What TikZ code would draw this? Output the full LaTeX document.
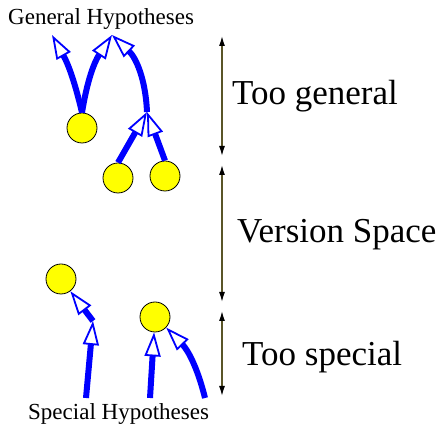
\documentclass[tikz,border=0pt]{standalone}
\usepackage{fontspec}
\setmainfont{Liberation Serif}
\usetikzlibrary{arrows.meta}
\definecolor{hblue}{RGB}{0,0,255}
\definecolor{hyellow}{RGB}{255,255,0}
\definecolor{rangeline}{RGB}{90,85,40}
\begin{document}
\begin{tikzpicture}[x=1pt,y=-1pt,
  hyp/.style={circle,draw=black,line width=0.8pt,fill=hyellow,minimum size=30pt,inner sep=0pt},
  gen/.style={line width=6pt,draw=hblue,-{Triangle[open,fill=white,length=24pt,width=16pt,line width=1.8pt]}},
  spanline/.style={line width=1.3pt,draw=rangeline,{Latex[black,length=10pt,width=6pt]}-{Latex[black,length=10pt,width=6pt]}},
  big/.style={font=\fontsize{35}{40}\selectfont,inner sep=0pt,anchor=base west},
  small/.style={font=\fontsize{23}{27}\selectfont,inner sep=0pt,anchor=base west}]
\useasboundingbox (0,0) rectangle (445,427);
% hypotheses
\node[hyp] (a) at (82,128) {};
\node[hyp] (b) at (118,178) {};
\node[hyp] (c) at (165,176) {};
\node[hyp] (d) at (61,279) {};
\node[hyp] (e) at (155,317) {};
% points
\coordinate (g1) at (52,35);
\coordinate (g2) at (112,35);
\coordinate (br) at (147,112);
\coordinate (j) at (93,321);
\coordinate (s1) at (86,398);
\coordinate (s2) at (150,398);
\coordinate (s3) at (205,398);
% general arrows
\draw[gen] (a.north) to[bend right=8] (g1);
\draw[gen] (a.north) to[bend left=12] (g2);
\draw[gen] (br) to[bend right=22] (g2);
\draw[gen] (b.north) -- (br);
\draw[gen] (c.north) -- (br);
% special arrows
\draw[gen] (s1) -- (j);
\draw[gen] (j) -- (d);
\draw[gen] (s2) -- (e);
\draw[gen] (s3) to[bend right=15] (e);
% ranges
\coordinate (r1) at (222,36);
\coordinate (r2) at (222,156);
\coordinate (r3) at (222,165);
\coordinate (r4) at (222,302);
\coordinate (r5) at (222,311);
\coordinate (r6) at (222,396);
\draw[spanline] (r1) -- (r2);
\draw[spanline] (r3) -- (r4);
\draw[spanline] (r5) -- (r6);
% labels
\node[small] (gh) at (8,25) {General Hypotheses};
\node[small] (sh) at (28,420) {Special Hypotheses};
\node[big] (tg) at (232,105) {Too general};
\node[big] (vs) at (237,243) {Version Space};
\node[big] (ts) at (242,366) {Too special};
\end{tikzpicture}
\end{document}
